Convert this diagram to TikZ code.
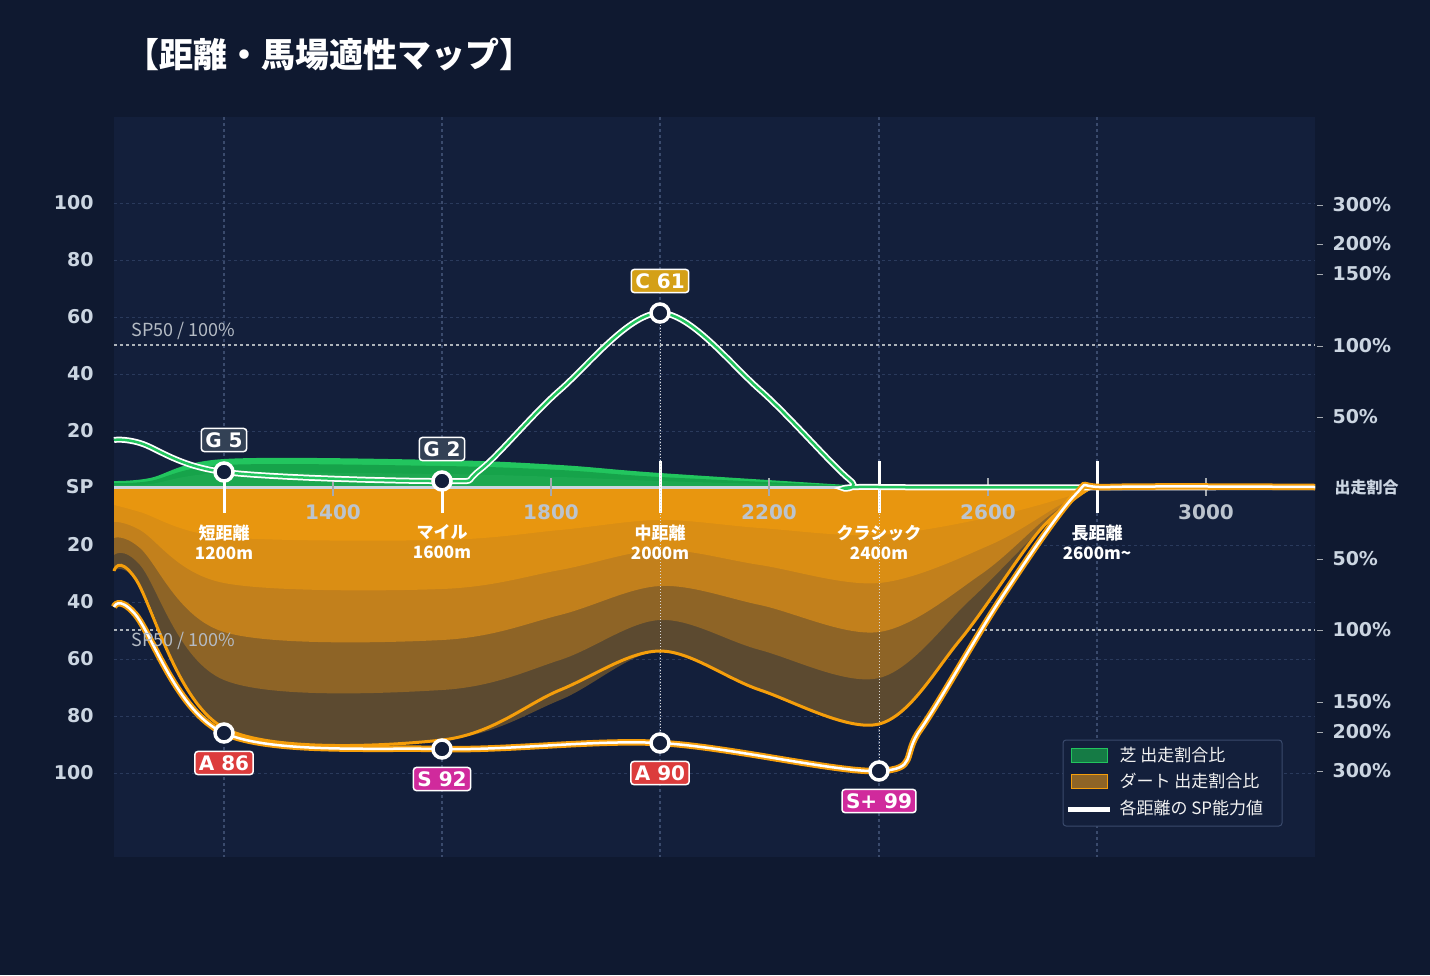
\documentclass[tikz,border=0pt]{standalone}
\usepackage{fontspec}
\setmainfont{Noto Sans CJK JP}
\newfontfamily\numfont{DejaVu Sans}
\definecolor{pagebg}{HTML}{0F1930}
\definecolor{plotbg}{HTML}{131F3B}
\definecolor{gridc}{HTML}{2A3A5C}
\definecolor{vgridc}{HTML}{3A4A6C}
\definecolor{axtext}{HTML}{CBD5E1}
\definecolor{turf}{HTML}{22C55E}
\definecolor{turfdk}{HTML}{16A34A}
\definecolor{dirtA}{HTML}{E8960F}
\definecolor{dirtB}{HTML}{DA8E14}
\definecolor{dirtC}{HTML}{C2801C}
\definecolor{dirtD}{HTML}{8E6426}
\definecolor{dirtE}{HTML}{5C4A30}
\definecolor{orangeln}{HTML}{F59E0B}
\definecolor{gboxc}{HTML}{334155}
\definecolor{goldc}{HTML}{D4A017}
\definecolor{redc}{HTML}{DC3C3C}
\definecolor{magc}{HTML}{D02A9C}
\tikzset{
  lefttick/.style={anchor=east,text=axtext,font=\numfont\bfseries\fontsize{19}{19}\selectfont},
  righttick/.style={anchor=west,text=axtext,font=\numfont\bfseries\fontsize{19}{19}\selectfont},
  distlbl/.style={text=axtext!80!gray,font=\numfont\bfseries\fontsize{20}{20}\selectfont},
  catlbl/.style={align=center,text=white,font=\bfseries\fontsize{17}{20}\selectfont},
  grade/.style={draw=white,line width=1.5pt,rounded corners=3pt,text=white,inner sep=4pt,
    font=\numfont\bfseries\fontsize{20}{20}\selectfont},
  marker/.style={circle,draw=white,line width=3.5pt,fill=plotbg,minimum size=18pt,inner sep=0pt},
  gridln/.style={gridc,dashed,line width=0.8pt},
  smoothc/.style={smooth,tension=0.55},
}
\begin{document}
\begin{tikzpicture}[x=1pt,y=-1pt]
  \fill[pagebg] (0,0) rectangle (1430,975);
  \useasboundingbox (0,0) rectangle (1430,975);
  \fill[plotbg] (114,117) rectangle (1315,857);
  \node[anchor=west,text=white,font=\bfseries\fontsize{34}{34}\selectfont] (title) at (122,55) {【距離・馬場適性マップ】};

  % grid
  \foreach \y in {203,260,317,374,431,545,602,659,716,773}
    {\draw[gridln,dash pattern=on 3pt off 3pt] (114,\y) -- (1315,\y);}
  \foreach \x in {224,442,660,879,1097}
    {\draw[vgridc,dashed,line width=1.5pt] (\x,117) -- (\x,857);}
  \draw[axtext!60!gray,dashed,line width=1.3pt] (114,345) -- (1315,345);
  \draw[axtext!60!gray,dashed,line width=1.3pt] (114,630) -- (1315,630);

  % dirt layers
  \fill[dirtE] (114,487) -- plot[smoothc] coordinates {(114,571) (140,585) (224,728) (442,740) (560,700) (660,651) (760,690) (879,724) (960,640) (1040,530) (1090,488)} -- cycle;
  \fill[dirtD] (114,487) -- plot[smoothc] coordinates {(114,555) (140,565) (224,680) (442,690) (560,660) (660,620) (760,650) (879,678) (970,600) (1050,520) (1092,488)} -- cycle;
  \fill[dirtC] (114,487) -- plot[smoothc] coordinates {(114,538) (140,548) (224,632) (442,640) (560,615) (660,586) (760,605) (879,632) (980,575) (1050,515) (1094,488)} -- cycle;
  \fill[dirtB] (114,487) -- plot[smoothc] coordinates {(114,522) (140,530) (224,583) (442,589) (560,570) (660,550) (760,565) (879,583) (990,545) (1060,505) (1095,488)} -- cycle;
  \fill[dirtA] (114,487) -- plot[smoothc] coordinates {(114,505) (140,512) (224,537) (442,540) (560,530) (660,520) (760,528) (879,535) (1000,515) (1096,488)} -- cycle;
  % turf layers
  \fill[turf] (114,487) -- plot[smoothc] coordinates {(114,481) (150,478) (224,459) (442,460) (560,465) (660,473) (879,487)} -- cycle;
  \fill[turfdk] (114,487) -- plot[smoothc] coordinates {(114,483) (150,481) (224,465) (442,466) (560,470) (660,477) (879,487)} -- cycle;
  \fill[turf!85!black] (114,487) -- plot[smoothc] coordinates {(114,485) (150,484) (224,473) (442,474) (560,477) (660,481) (879,487)} -- cycle;
  \draw[axtext,line width=3pt] (114,487) -- (1315,487);

  % distance ticks
  \foreach \x/\d in {333/1400,551/1800,769/2200,988/2600,1206/3000}
    {\draw[axtext!50!gray,line width=1.5pt] (\x,478) -- (\x,496);
     \node[distlbl] (d\d) at (\x,512) {\d};}
  \draw[white,line width=3pt] (224,472) -- (224,513);
  \draw[white,line width=3pt] (442,481) -- (442,513);
  \draw[white,line width=3pt] (660,461) -- (660,513);
  \draw[white,line width=3pt] (879,461) -- (879,513);
  \draw[white,line width=3pt] (1097,461) -- (1097,513);
  \draw[white!70!gray,dotted,line width=1pt] (660,313) -- (660,743);
  \draw[white!70!gray,dotted,line width=1pt] (879,487) -- (879,771);
  \node[catlbl] (sprint) at (224,542) {短距離\\1200m};
  \node[catlbl] (mile) at (442,542) {マイル\\1600m};
  \node[catlbl] (middle) at (660,542) {中距離\\2000m};
  \node[catlbl] (classic) at (879,542) {クラシック\\2400m};
  \node[catlbl] (long) at (1097,542) {長距離\\2600m\textasciitilde};

  % SP curves
  \def\turfpath{plot[smoothc] coordinates {(114,440) (140,443) (224,472) (442,481) (480,470) (560,390) (660,313) (760,390) (850,480) (879,487) (1315,487)}}
  \def\dirtpath{plot[smoothc] coordinates {(114,607) (135,614) (224,733) (442,749) (660,743) (879,771) (920,730) (1000,600) (1075,495) (1110,487) (1315,487)}}
  \def\innerpath{plot[smoothc] coordinates {(114,571) (135,578) (224,728) (442,740) (560,690) (660,651) (760,690) (879,724) (960,640) (1040,530) (1090,488)}}
  \draw[orangeln,line width=3pt] \innerpath;
  \draw[white,line width=6pt] \turfpath;
  \draw[turf,line width=2.5pt] \turfpath;
  \draw[orangeln,line width=6.5pt] \dirtpath;
  \draw[white,line width=2.5pt] \dirtpath;

  % markers and grades
  \node[marker] (m1) at (224,472) {};
  \node[marker] (m2) at (442,481) {};
  \node[marker] (m3) at (660,313) {};
  \node[marker] (m4) at (224,733) {};
  \node[marker] (m5) at (442,749) {};
  \node[marker] (m6) at (660,743) {};
  \node[marker] (m7) at (879,771) {};
  \node[grade,fill=gboxc] (g1) at (224,440) {G 5};
  \node[grade,fill=gboxc] (g2) at (442,449) {G 2};
  \node[grade,fill=goldc] (g3) at (660,281) {C 61};
  \node[grade,fill=redc] (g4) at (224,763) {A 86};
  \node[grade,fill=magc] (g5) at (442,779) {S 92};
  \node[grade,fill=redc] (g6) at (660,773) {A 90};
  \node[grade,fill=magc] (g7) at (879,801) {S+ 99};

  % axes labels
  \foreach \y/\t in {203/100,260/80,317/60,374/40,431/20,487/SP,545/20,602/40,659/60,716/80,773/100}
    {\node[lefttick] (l\y) at (97,\y) {\t};}
  \foreach \y/\t in {205/300\%,244/200\%,274/150\%,346/100\%,417/50\%,559/50\%,630/100\%,702/150\%,732/200\%,771/300\%}
    {\draw[axtext!50!gray] (1317,\y) -- (1323,\y);
     \node[righttick] (r\y) at (1329,\y) {\t};}
  \node[anchor=west,text=axtext,font=\bfseries\fontsize{16}{16}\selectfont] (ratio) at (1331,487) {出走割合};
  \node[anchor=west,text=axtext!70!gray,font=\fontsize{18}{18}\selectfont] (sp1) at (128,331) {SP50 / 100\%};
  \node[anchor=west,text=axtext!70!gray,font=\fontsize{18}{18}\selectfont] (sp2) at (128,641) {SP50 / 100\%};

  % legend
  \draw[vgridc,fill=plotbg,line width=1pt,rounded corners=3pt] (1063,740) rectangle (1282,826);
  \draw[turf,fill=turfdk!70!plotbg] (1071,748) rectangle (1107,762);
  \draw[orangeln,fill=dirtD] (1071,774) rectangle (1107,788);
  \draw[white,line width=5pt] (1068,809) -- (1110,809);
  \node[anchor=west,text=white!90!gray,font=\fontsize{17}{17}\selectfont] (lg1) at (1116,755) {芝 出走割合比};
  \node[anchor=west,text=white!90!gray,font=\fontsize{17}{17}\selectfont] (lg2) at (1116,781) {ダート 出走割合比};
  \node[anchor=west,text=white!90!gray,font=\fontsize{17}{17}\selectfont] (lg3) at (1116,808) {各距離の SP能力値};
\end{tikzpicture}
\end{document}
